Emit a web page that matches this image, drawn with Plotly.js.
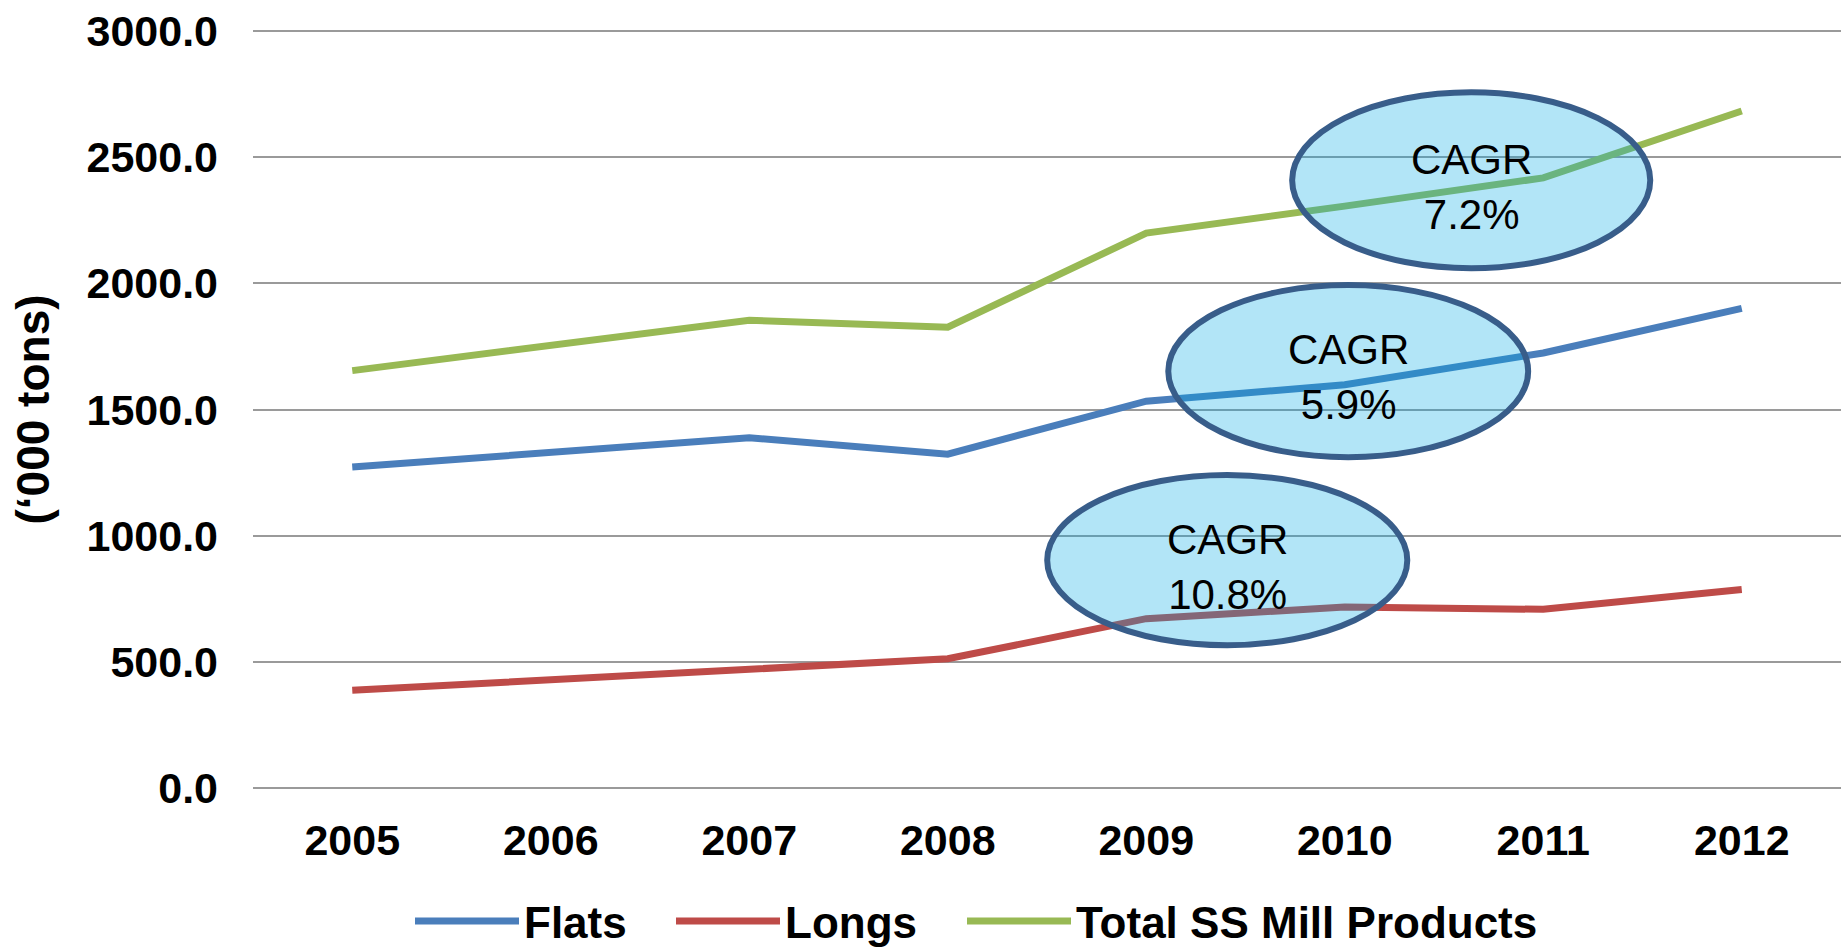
<!DOCTYPE html>
<html>
<head>
<meta charset="utf-8">
<script src="https://cdn.plot.ly/plotly-3.0.1.min.js"></script>
<style>html,body{margin:0;padding:0;background:#fff;}#chart{width:1847px;height:951px;}</style>
</head>
<body>
<div id="chart"></div>
<script>
var years = ['2005','2006','2007','2008','2009','2010','2011','2012'];
var flats = [1272, 1332, 1388, 1323, 1533, 1598, 1724, 1901];
var longs = [387, 429, 470, 512, 671, 717, 708, 787];
var total = [1654, 1752, 1854, 1826, 2199, 2306, 2418, 2683];
var seriesNames = ['Flats', 'Longs', 'Total SS Mill Products'];
var yTickVals = [0, 500, 1000, 1500, 2000, 2500, 3000];
var yTickText = ['0.0', '500.0', '1000.0', '1500.0', '2000.0', '2500.0', '3000.0'];
var cagrLabels = ['CAGR<br>7.2%', 'CAGR<br>5.9%', 'CAGR<br>10.8%'];

var colors = ['#4A7EBB', '#BE4B48', '#98B954'];
var legendIds = ['legend', 'legend2', 'legend3'];
var legendLeft = [410, 671, 962];
var series = [flats, longs, total];
var traces = series.map(function (vals, i) {
  return {
    x: years, y: vals, type: 'scatter', mode: 'lines', name: seriesNames[i],
    legend: legendIds[i],
    line: {color: colors[i], width: 7}
  };
});

// ellipse boxes (category index / value units) and label centres
var ellipses = [
  {x0: 4.735, x1: 6.539, y0: 2060, y1: 2757, tx: 5.637, ty: 2381},
  {x0: 4.111, x1: 5.924, y0: 1311, y1: 1993, tx: 5.018, ty: 1628},
  {x0: 3.501, x1: 5.315, y0: 566, y1: 1240, tx: 4.408, ty: 875}
];
var shapes = ellipses.map(function (e) {
  return {type: 'circle', xref: 'x', yref: 'y', x0: e.x0, x1: e.x1, y0: e.y0, y1: e.y1,
    layer: 'above', fillcolor: 'rgba(0,168,228,0.3)', line: {color: '#385D8A', width: 6}};
});
var annotations = ellipses.map(function (e, i) {
  return {xref: 'x', yref: 'y', x: e.tx, y: e.ty, text: cagrLabels[i], showarrow: false,
    font: {family: 'Liberation Sans, Arial, sans-serif', size: 42, color: '#000'}};
});

var layout = {
  width: 1847, height: 951,
  margin: {l: 253, r: 6, t: 29, b: 161},
  paper_bgcolor: '#fff', plot_bgcolor: '#fff',
  showlegend: true,
  xaxis: {
    type: 'category', range: [-0.5, 7.5], showgrid: false, zeroline: false, showline: false,
    ticks: '', ticklabelstandoff: 21, fixedrange: true,
    tickfont: {family: 'Liberation Sans, Arial, sans-serif', size: 43, color: '#000', weight: 'bold'}
  },
  yaxis: {
    range: [-8, 3008], tickvals: yTickVals, ticktext: yTickText,
    showgrid: true, gridcolor: '#9A9A9A', gridwidth: 2, zeroline: false, showline: false,
    ticks: '', ticklabelstandoff: 34,
    tickfont: {family: 'Liberation Sans, Arial, sans-serif', size: 43, color: '#000', weight: 'bold'},
    title: {text: '(‘000 tons)', standoff: 22,
      font: {family: 'Liberation Sans, Arial, sans-serif', size: 46, color: '#000', weight: 'bold'}}
  },
  shapes: shapes,
  annotations: annotations
};
legendIds.forEach(function (id, i) {
  layout[id] = {
    orientation: 'h', xref: 'container', yref: 'container',
    x: legendLeft[i] / 1847, xanchor: 'left', y: 0.031, yanchor: 'middle',
    itemwidth: 104, bgcolor: 'rgba(0,0,0,0)',
    font: {family: 'Liberation Sans, Arial, sans-serif', size: 44, color: '#000', weight: 'bold'}
  };
});

Plotly.newPlot('chart', traces, layout, {displayModeBar: false, staticPlot: true});
</script>
</body>
</html>
